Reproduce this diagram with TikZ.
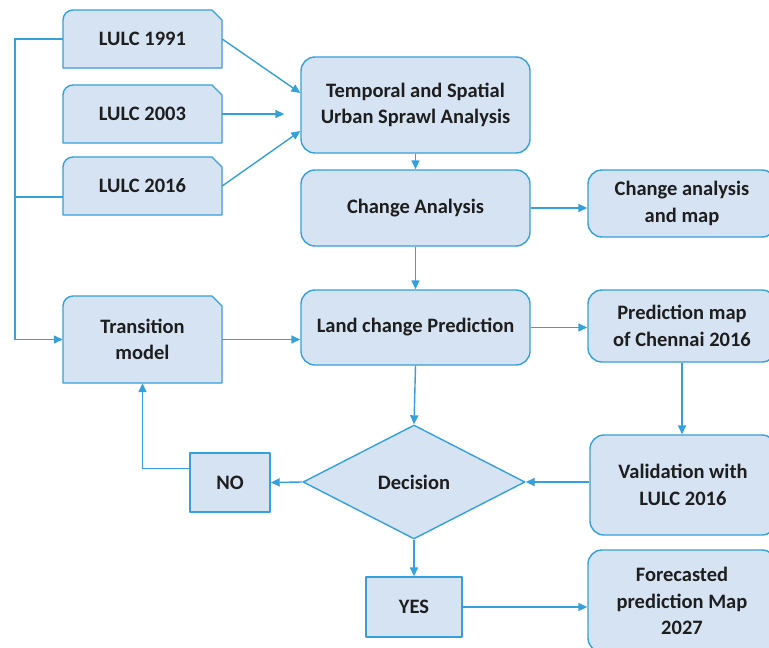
\documentclass[tikz,border=0pt]{standalone}
\usepackage{fontspec}
\setmainfont{Carlito}
\usetikzlibrary{arrows.meta,shapes.geometric}
\definecolor{lineblue}{RGB}{52,160,220}
\definecolor{boxfill}{RGB}{214,227,243}
\definecolor{txtcol}{RGB}{30,30,30}
\tikzset{
  boxline/.style={draw=lineblue,fill=boxfill,line width=1.4pt,line join=round},
  txt/.style={text=txtcol,font=\fontsize{20.5}{26.5}\selectfont\bfseries,align=center,inner sep=0pt},
  rbox/.style={boxline,rounded corners=14pt,inner sep=0pt},
  sbox/.style={boxline,inner sep=0pt},
  conn/.style={draw=lineblue,line width=1.4pt},
  arr/.style={conn,-{Triangle[length=9pt,width=8pt]}},
}
% snipped-and-rounded box: name, x1, y1, x2, y2, text
\newcommand\snipbox[6]{%
  \path[boxline] (#2,#5) -- (#2,#3+10) arc[start angle=180,end angle=90,radius=10pt]
    -- (#4-10,#3) -- (#4,#3+10) -- (#4,#5) -- cycle;
  \node[txt,minimum width={(#4-#2)*1pt},minimum height={(#5-#3)*1pt}] (#1)
    at ({(#2+#4)/2},{(#3+#5)/2}) {#6};}
\newcommand\roundbox[6]{%
  \node[rbox,txt,minimum width={(#4-#2)*1pt},minimum height={(#5-#3)*1pt},draw=lineblue,fill=boxfill] (#1)
    at ({(#2+#4)/2},{(#3+#5)/2}) {#6};}
\newcommand\squarebox[6]{%
  \node[sbox,txt,minimum width={(#4-#2)*1pt},minimum height={(#5-#3)*1pt},draw=lineblue,fill=boxfill] (#1)
    at ({(#2+#4)/2},{(#3+#5)/2}) {#6};}
\begin{document}
\begin{tikzpicture}[x=1pt,y=-1pt]
\useasboundingbox (0,0) rectangle (769,648);
\clip (0,0) rectangle (769,648);
\fill[white] (0,0) rectangle (769,648);
% left column
\snipbox{L91}{63}{10}{222}{68}{LULC 1991}
\snipbox{L03}{63}{85}{222}{143}{LULC 2003}
\snipbox{L16}{63}{157}{222}{215}{LULC 2016}
\snipbox{TM}{63}{296}{222}{383}{Transition\\model}
% middle column
\roundbox{T}{301}{57}{530}{153}{Temporal and Spatial\\Urban Sprawl Analysis}
\roundbox{CA}{301}{170}{530}{246}{Change Analysis}
\roundbox{LCP}{301}{290}{530}{365}{Land change Prediction}
\node[boxline,txt,shape=diamond,aspect=1.95,minimum width=222pt,minimum height=114pt] (D) at (414,482) {Decision};
\squarebox{NO}{190}{453}{270}{512}{NO}
\squarebox{YES}{366}{577}{462}{637}{YES}
% right column
\roundbox{CAM}{588}{170}{776}{237}{Change analysis\\and map}
\roundbox{PM}{588}{290}{776}{362}{Prediction map\\of Chennai 2016}
\roundbox{VAL}{590}{435}{776}{535}{Validation with\\LULC 2016}
\roundbox{FOR}{588}{550}{776}{652}{Forecasted\\prediction Map\\2027}
% connectors
\coordinate (bus) at (15,0);
\draw[conn] (L91.west) -- (L91.west -| bus) -- (TM.west -| bus);
\draw[arr] (TM.west -| bus) -- (TM.west);
\draw[conn] ([yshift=-11pt]L16.west) -- ([yshift=-11pt]L16.west -| bus);
\draw[arr] (L91.east) -- ([yshift=12pt]T.west);
\draw[arr] (L03.east) -- ([xshift=-16pt]L03.east -| T.west);
\draw[arr] (L16.east) -- ([yshift=-26pt]T.west);
\draw[arr] (T.south) -- (CA.north);
\draw[arr] (CA.east) -- (CA.east -| CAM.west);
\draw[arr] (CA.south) -- (LCP.north);
\draw[arr] (TM.east) -- (TM.east -| LCP.west);
\draw[arr] (LCP.east) -- (LCP.east -| PM.west);
\draw[arr] (PM.south) -- (PM.south |- VAL.north);
\draw[arr] (D.east -| VAL.west) -- (D.east);
\draw[arr] (LCP.south) -- (D.north);
\draw[arr] (D.west) -- (NO.east);
\draw[arr] ([yshift=14pt]NO.west) -| (TM.south);
\draw[arr] (D.south) -- (YES.north);
\draw[arr] (YES.east) -- (YES.east -| FOR.west);
\end{tikzpicture}
\end{document}
